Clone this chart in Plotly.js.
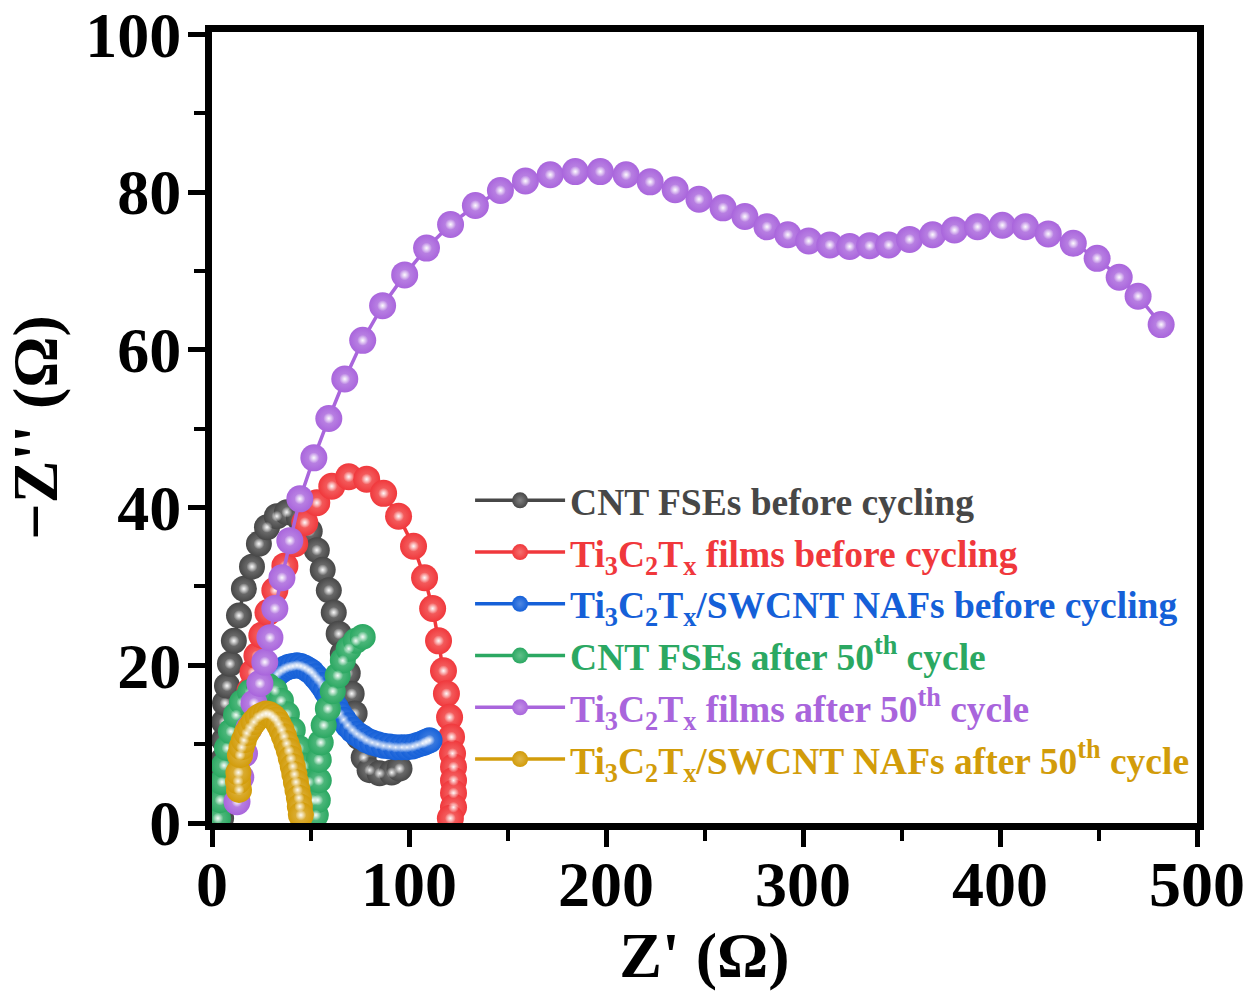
<!DOCTYPE html>
<html>
<head>
<meta charset="utf-8">
<script src="https://cdn.plot.ly/plotly-3.0.1.min.js"></script>
<style>
html,body{margin:0;padding:0;background:#fff;}
#chart{width:1258px;height:991px;}
</style>
</head>
<body>
<div id="chart"></div>
<script>
// ---- Data ----
const seriesNames = [
  "CNT FSEs before cycling",
  "Ti<sub>3</sub>C<sub>2</sub>T<sub>x</sub> films before cycling",
  "Ti<sub>3</sub>C<sub>2</sub>T<sub>x</sub>/SWCNT NAFs before cycling",
  "CNT FSEs after 50<sup>th</sup> cycle",
  "Ti<sub>3</sub>C<sub>2</sub>T<sub>x</sub> films after 50<sup>th</sup> cycle",
  "Ti<sub>3</sub>C<sub>2</sub>T<sub>x</sub>/SWCNT NAFs after 50<sup>th</sup> cycle"
];
const seriesColors = ["#474747", "#f0383c", "#1560d8", "#2ba862", "#a965dc", "#d29c0a"];
const seriesTints  = ["#808080", "#f5706f", "#4f88e3", "#62c08a", "#c190e6", "#dfb64a"];

const cntBeforeX = [4.6, 4.8, 5.1, 5.1, 5.4, 5.6, 6.1, 6.1, 6.6, 7.6, 9.1, 11.1, 13.7, 16.2, 20.3, 23.8, 27.9, 32.9, 38.0, 44.1, 49.6, 53.2, 56.2, 59.3, 61.8, 64.3, 66.4, 68.9, 70.9, 72.4, 74.5, 77.0, 80.0, 85.1, 91.2, 95.2];
const cntBeforeY = [0.6, 1.8, 2.9, 5.4, 6.7, 8.0, 10.5, 12.8, 15.2, 17.4, 20.2, 23.1, 26.3, 29.7, 32.5, 35.4, 37.5, 38.9, 39.4, 38.7, 37.0, 34.6, 32.1, 29.5, 26.7, 24.0, 21.5, 19.0, 16.4, 13.9, 10.9, 8.3, 6.7, 6.3, 6.4, 6.9];

const filmsBeforeX = [19.3, 20.8, 22.8, 25.3, 28.4, 31.9, 37.0, 42.0, 47.1, 53.2, 60.8, 69.4, 78.5, 87.1, 94.7, 102.3, 107.9, 112.0, 115.0, 117.5, 119.0, 120.6, 121.6, 122.1, 122.6, 122.6, 122.6, 122.6, 121.0];
const filmsBeforeY = [16.8, 19.1, 21.2, 23.8, 26.7, 29.5, 32.6, 35.4, 38.1, 40.6, 42.7, 43.9, 43.6, 41.8, 38.9, 35.1, 31.1, 27.2, 23.1, 19.3, 16.4, 13.4, 10.9, 8.8, 7.1, 5.4, 3.8, 2.0, 0.6];

const nafsBeforeX = [29.4, 30.4, 31.4, 33.0, 35.0, 37.0, 39.0, 41.0, 43.1, 45.1, 47.1, 49.0, 50.7, 52.4, 54.2, 56.0, 57.8, 59.5, 61.3, 63.0, 64.8, 66.8, 68.9, 71.2, 73.5, 76.0, 78.5, 81.3, 84.1, 87.1, 90.2, 93.2, 96.3, 99.0, 101.8, 104.3, 106.9, 108.7, 110.4];
const nafsBeforeY = [16.8, 17.6, 18.3, 18.9, 19.3, 19.6, 19.8, 19.9, 20.0, 19.9, 19.7, 19.4, 19.1, 18.6, 18.1, 17.5, 16.8, 16.1, 15.3, 14.6, 13.8, 13.1, 12.4, 11.8, 11.3, 10.9, 10.5, 10.2, 10.0, 9.8, 9.7, 9.6, 9.6, 9.6, 9.7, 9.9, 10.1, 10.3, 10.5];

const cntAfterX = [3.0, 4.1, 5.1, 6.1, 7.6, 9.6, 12.2, 15.2, 19.3, 23.8, 28.4, 31.9, 35.0, 38.0, 41.0, 44.1, 46.6, 49.1, 51.2, 52.7, 53.7, 54.2, 54.2, 55.2, 56.7, 58.8, 61.3, 63.8, 66.4, 69.4, 73.0, 76.5];
const cntAfterY = [0.6, 2.9, 5.2, 7.3, 9.5, 11.6, 13.7, 15.3, 16.6, 17.3, 17.4, 16.8, 15.5, 13.8, 11.8, 9.5, 7.3, 5.2, 2.9, 1.0, 2.9, 5.4, 8.0, 10.2, 12.4, 14.5, 16.7, 18.7, 20.6, 22.1, 23.1, 23.6];

const filmsAfterX = [12.7, 14.6, 16.5, 18.8, 21.3, 24.3, 26.8, 29.4, 31.9, 35.5, 39.5, 44.6, 51.7, 59.3, 67.4, 76.5, 86.6, 97.8, 108.9, 121.1, 133.7, 146.4, 159.1, 171.7, 184.4, 197.1, 210.2, 222.4, 235.1, 247.2, 259.4, 270.5, 281.7, 292.3, 302.9, 313.6, 323.7, 333.8, 343.5, 354.1, 365.8, 376.9, 388.6, 401.2, 412.9, 424.5, 437.2, 449.3, 460.5, 470.1, 481.8];
const filmsAfterY = [2.7, 5.8, 8.8, 12.0, 15.2, 17.7, 20.4, 23.5, 27.2, 31.1, 35.8, 41.1, 46.3, 51.3, 56.3, 61.2, 65.6, 69.5, 72.9, 75.9, 78.3, 80.2, 81.4, 82.2, 82.6, 82.6, 82.2, 81.3, 80.3, 79.1, 78.0, 76.9, 75.6, 74.6, 73.8, 73.3, 73.1, 73.2, 73.3, 74.0, 74.6, 75.2, 75.6, 75.8, 75.6, 74.7, 73.5, 71.6, 69.2, 66.8, 63.2];

const nafsAfterX = [13.7, 13.2, 13.4, 14.2, 15.0, 16.2, 17.6, 19.3, 21.2, 23.3, 25.4, 27.4, 29.2, 30.9, 32.5, 33.9, 35.3, 36.5, 37.8, 39.0, 40.0, 41.0, 41.8, 42.6, 43.4, 44.1, 44.6, 45.1];
const nafsAfterY = [4.2, 5.3, 6.4, 8.6, 9.6, 10.5, 11.4, 12.1, 12.8, 13.4, 13.7, 13.9, 13.8, 13.5, 13.1, 12.5, 11.8, 11.0, 10.1, 9.2, 8.2, 7.2, 6.2, 5.2, 4.2, 3.2, 2.1, 1.0];

const xTickVals = [0, 100, 200, 300, 400, 500];
const yTickVals = [0, 20, 40, 60, 80, 100];
const xTitle = "Z' (Ω)";
const yTitle = "\u2212Z'' (Ω)";

// ---- Build traces ----
const allX = [cntBeforeX, filmsBeforeX, nafsBeforeX, cntAfterX, filmsAfterX, nafsAfterX];
const allY = [cntBeforeY, filmsBeforeY, nafsBeforeY, cntAfterY, filmsAfterY, nafsAfterY];
const markerSizes = [26, 27, 26, 26, 27, 26];

const FONT = "Liberation Serif, Times New Roman, serif";

const traces = [];
seriesNames.forEach((n, i) => {
  traces.push({
    type: "scatter",
    mode: "lines+markers",
    x: allX[i],
    y: allY[i],
    name: '<span style="color:' + seriesColors[i] + '">' + n + '</span>',
    line: {color: seriesColors[i], width: 3.5},
    marker: {
      color: seriesColors[i],
      size: markerSizes[i],
      line: {width: 0},
      gradient: {type: "radial", color: seriesTints[i]}
    },
    hoverinfo: "skip"
  });
  // specular highlight on each ball (same data points)
  traces.push({
    type: "scatter",
    mode: "markers",
    x: allX[i],
    y: allY[i],
    showlegend: false,
    hoverinfo: "skip",
    marker: {
      color: "rgba(255,255,255,0)",
      size: 11,
      line: {width: 0},
      gradient: {type: "radial", color: "rgba(255,255,255,0.95)"}
    }
  });
});

const layout = {
  width: 1258,
  height: 991,
  paper_bgcolor: "#ffffff",
  plot_bgcolor: "#ffffff",
  margin: {l: 212, r: 61, t: 32, b: 168},
  font: {family: FONT, color: "#000", weight: "bold"},
  showlegend: true,
  legend: {
    x: 0.262, y: 0.447, xanchor: "left", yanchor: "top",
    bgcolor: "rgba(0,0,0,0)",
    font: {family: FONT, size: 37.5, weight: "bold"},
    itemwidth: 90,
    tracegroupgap: 0
  },
  xaxis: {
    range: [0, 500],
    tickvals: xTickVals,
    ticktext: xTickVals.map(String),
    ticks: "outside", ticklen: 17, tickwidth: 5, tickcolor: "#000",
    minor: {dtick: 50, tick0: 50, ticks: "outside", ticklen: 11, tickwidth: 4, tickcolor: "#000"},
    showline: true, linewidth: 7, linecolor: "#000", mirror: true,
    showgrid: false, zeroline: false,
    ticklabeloverflow: "allow",
    ticklabelstandoff: -18,
    tickfont: {family: FONT, size: 64, weight: "bold", color: "#000"},
    title: {text: xTitle, font: {family: FONT, size: 64, weight: "bold", color: "#000"}, standoff: 4}
  },
  yaxis: {
    range: [0, 100.3],
    tickvals: yTickVals,
    ticktext: yTickVals.map(String),
    ticks: "outside", ticklen: 17, tickwidth: 5, tickcolor: "#000",
    minor: {dtick: 10, tick0: 10, ticks: "outside", ticklen: 11, tickwidth: 4, tickcolor: "#000"},
    showline: true, linewidth: 7, linecolor: "#000", mirror: true,
    showgrid: false, zeroline: false,
    ticklabeloverflow: "allow",
    ticklabelstandoff: -6,
    tickfont: {family: FONT, size: 64, weight: "bold", color: "#000"},
    title: {text: yTitle, font: {family: FONT, size: 64, weight: "bold", color: "#000"}, standoff: 32}
  }
};

Plotly.newPlot("chart", traces, layout, {displayModeBar: false, staticPlot: true});
</script>
</body>
</html>
